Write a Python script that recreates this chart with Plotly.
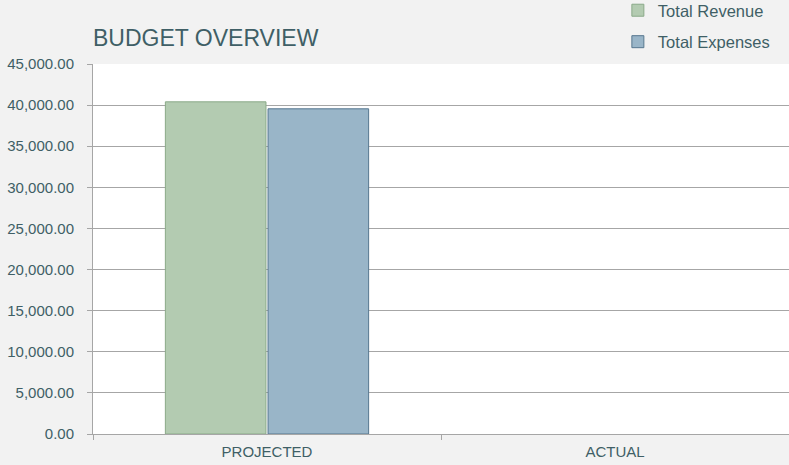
import plotly.graph_objects as go

categories = ["PROJECTED", "ACTUAL"]
revenue = [40400, None]
expenses = [39550, None]
ytick_vals = [0, 5000, 10000, 15000, 20000, 25000, 30000, 35000, 40000, 45000]

text_color = "#3f5f66"
font_family = "Liberation Sans, Arial, sans-serif"

fig = go.Figure()
fig.add_trace(go.Bar(
    x=categories, y=revenue, name="Total Revenue", legendgroup="rev",
    marker=dict(color="#b3cbb1", line=dict(color="#8aaa88", width=1)),
))
fig.add_trace(go.Bar(
    x=categories, y=expenses, name="Total Expenses", legendgroup="exp",
    marker=dict(color="#99b5c8", line=dict(color="#56778f", width=1)),
))

fig.update_layout(
    width=789, height=465,
    paper_bgcolor="#f2f2f2", plot_bgcolor="#ffffff",
    margin=dict(l=93, r=0, t=64, b=31, autoexpand=False),
    font=dict(family=font_family, color=text_color, size=14),
    title=dict(text="BUDGET OVERVIEW", x=93/789, xanchor="left", y=1-38/465, yanchor="middle",
               font=dict(size=23, color=text_color, family=font_family)),
    barmode="group", bargap=0.41, bargroupgap=0.02,
    showlegend=True,
    legend=dict(x=595/789, xanchor="left", y=1 + 71/370, yanchor="top", yref="paper",
                bgcolor="rgba(0,0,0,0)", font=dict(size=16.5, color=text_color),
                tracegroupgap=7, itemwidth=30, traceorder="grouped"),
)
fig.update_yaxes(range=[0, 45000], tickvals=ytick_vals, tickformat=",.2f",
                 showgrid=True, gridcolor="#a6a6a6", gridwidth=1,
                 showline=True, linecolor="#a6a6a6", ticks="outside", ticklen=5,
                 ticklabelstandoff=10,
                 tickcolor="#a6a6a6", zeroline=False, tickfont=dict(size=15, color=text_color))
fig.update_xaxes(showline=True, linecolor="#a6a6a6", ticks="outside", ticklen=5,
                 tickson="boundaries", tickcolor="#a6a6a6", showgrid=False,
                 ticklabelstandoff=4,
                 tickfont=dict(size=15, color=text_color))

fig.write_html("out.html", config={"displayModeBar": False},
               post_script="document.body.style.margin='0';document.body.style.overflow='hidden';")
